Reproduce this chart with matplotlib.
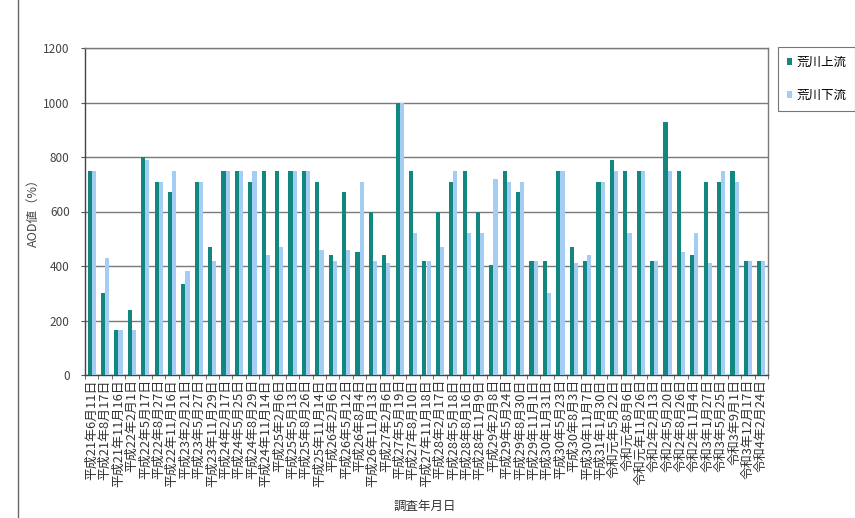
import matplotlib
matplotlib.use("Agg")
import matplotlib.pyplot as plt
import numpy as np
from matplotlib.lines import Line2D
from matplotlib.patches import Patch

plt.rcParams['font.family'] = ['Noto Sans CJK JP', 'DejaVu Sans']

dates = [
    "平成21年6月11日", "平成21年8月17日", "平成21年11月16日", "平成22年2月1日",
    "平成22年5月17日", "平成22年8月27日", "平成22年11月16日", "平成23年2月21日",
    "平成23年5月27日", "平成23年11月29日", "平成24年2月17日", "平成24年5月25日",
    "平成24年8月29日", "平成24年11月14日", "平成25年2月6日", "平成25年5月13日",
    "平成25年8月26日", "平成25年11月14日", "平成26年2月6日", "平成26年5月12日",
    "平成26年8月4日", "平成26年11月13日", "平成27年2月6日", "平成27年5月19日",
    "平成27年8月10日", "平成27年11月18日", "平成28年2月17日", "平成28年5月18日",
    "平成28年8月16日", "平成28年11月9日", "平成29年2月8日", "平成29年5月24日",
    "平成29年8月30日", "平成29年11月1日", "平成30年1月31日", "平成30年5月23日",
    "平成30年8月3日", "平成30年11月7日", "平成31年1月30日", "令和元年5月22日",
    "令和元年8月6日", "令和元年11月26日", "令和2年2月13日", "令和2年5月20日",
    "令和2年8月26日", "令和2年11月4日", "令和3年1月27日", "令和3年5月25日",
    "令和3年9月1日", "令和3年12月17日", "令和4年2月24日",
]

upstream = [750, 300, 165, 240, 800, 710, 670, 335, 710, 470,
            750, 750, 710, 750, 750, 750, 750, 710, 440, 670,
            450, 600, 440, 1000, 750, 420, 600, 710, 750, 600,
            405, 750, 670, 420, 420, 750, 470, 420, 710, 790,
            750, 750, 420, 930, 750, 440, 710, 710, 750, 420, 420]

downstream = [750, 430, 165, 165, 790, 710, 750, 380, 710, 420,
              750, 750, 750, 440, 470, 750, 750, 460, 420, 460,
              710, 420, 410, 1000, 520, 420, 470, 750, 520, 520,
              720, 710, 710, 420, 300, 750, 410, 440, 710, 750,
              520, 750, 420, 750, 450, 520, 410, 750, 710, 420, 420]

series_names = ["荒川上流", "荒川下流"]
y_ticks = [0, 200, 400, 600, 800, 1000, 1200]

c_up = "#128780"
c_down = "#a3cdf3"

W, H = 855, 518
fig = plt.figure(figsize=(W / 100, H / 100), dpi=100)
ax = fig.add_axes([85 / W, 1 - 375 / H, (768 - 85) / W, (375 - 48) / H])

x = np.arange(len(dates))
bw = 0.31
ax.bar(x - bw / 2, upstream, width=bw, color=c_up, linewidth=0, zorder=3)
ax.bar(x + bw / 2, downstream, width=bw, color=c_down, linewidth=0, zorder=3)

ax.set_xlim(-0.5, len(dates) - 0.5)
ax.set_ylim(0, 1200)
ax.set_yticks(y_ticks)
ax.set_yticklabels([str(v) for v in y_ticks], fontsize=8.5, color="#444444")
ax.yaxis.grid(True, color="#7a7a7a", linewidth=1.0, zorder=1)
ax.set_axisbelow(True)

ax.set_xticks(x)
ax.set_xticklabels(dates, rotation=90, fontsize=9.3, color="#333333")
ax.tick_params(axis="x", length=0, pad=3)
ax.set_xticks(np.arange(-0.5, len(dates), 1), minor=True)
ax.tick_params(axis="x", which="minor", length=3, color="#555555", direction="out")
ax.tick_params(axis="y", length=3, color="#555555", direction="out", pad=8)

for s in ["top", "right"]:
    ax.spines[s].set_color("#7a7a7a")
    ax.spines[s].set_linewidth(1.0)
for s in ["left", "bottom"]:
    ax.spines[s].set_color("#444444")
    ax.spines[s].set_linewidth(1.0)

fig.text(33 / W, 1 - 210 / H, "AOD値（%）", rotation=90, ha="center", va="center",
         fontsize=9, color="#444444")
fig.text(425 / W, 1 - 506 / H, "調査年月日", ha="center", va="center",
         fontsize=9, color="#333333")

handles = [Patch(facecolor=c_up, edgecolor="none"),
           Patch(facecolor=c_down, edgecolor="none")]
leg = fig.legend(handles, series_names, loc="upper left",
                 bbox_to_anchor=(778 / W, 1 - 47 / H), fontsize=9,
                 handlelength=0.45, handleheight=0.45, handletextpad=0.3,
                 labelspacing=1.6, borderpad=0.7, frameon=True, fancybox=False,
                 borderaxespad=0)
leg.get_frame().set_edgecolor("#555555")
leg.get_frame().set_linewidth(0.8)

fig.add_artist(Line2D([18 / W, 18 / W], [0, 1], transform=fig.transFigure,
                      color="#666666", linewidth=1.0))

fig.savefig("out.png", dpi=100)
